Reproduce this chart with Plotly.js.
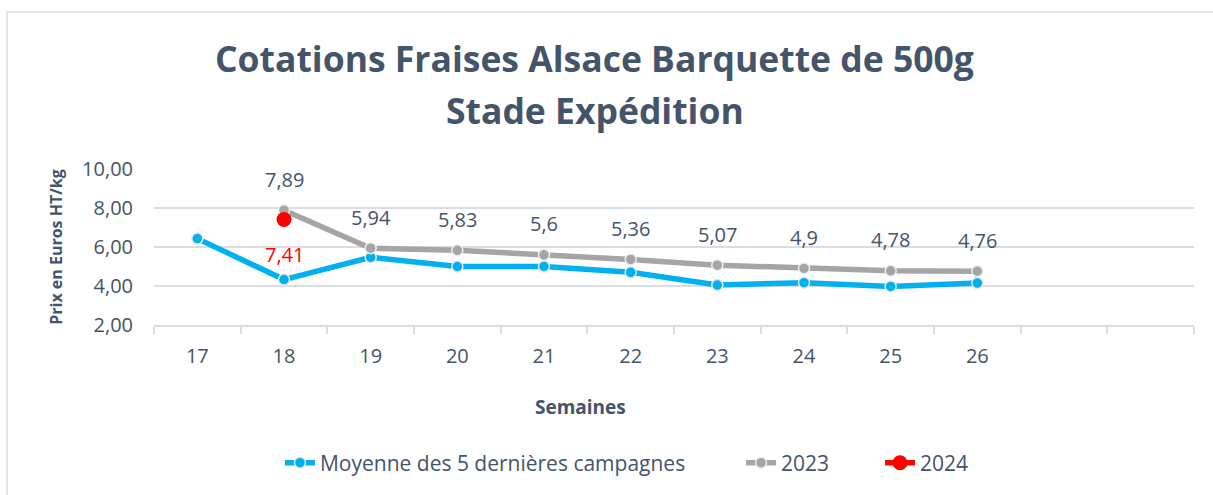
<!DOCTYPE html>
<html>
<head>
<meta charset="utf-8">
<script src="https://cdn.plot.ly/plotly-3.0.1.min.js"></script>
<style>
  html, body { margin: 0; padding: 0; background: #ffffff; }
  #chart { width: 1213px; height: 495px; }
  #frame { position: absolute; left: 6px; top: 11px; width: 1220px; height: 500px;
           border-left: 2px solid #e1e4e8; border-top: 2px solid #e1e4e8; pointer-events: none; }
</style>
</head>
<body>
<div id="chart"></div>
<div id="frame"></div>
<script>
// ---- data ----
const weeks = ['17', '18', '19', '20', '21', '22', '23', '24', '25', '26'];
const emptySlots = [' ', '  '];
const avgWeeks = ['17', '18', '19', '20', '21', '22', '23', '24', '25', '26'];
const avgValues = [6.43, 4.33, 5.47, 5.0, 5.0, 4.70, 4.05, 4.17, 3.98, 4.15];
const y2023Weeks = ['18', '19', '20', '21', '22', '23', '24', '25', '26'];
const y2023Values = [7.89, 5.94, 5.83, 5.6, 5.36, 5.07, 4.9, 4.78, 4.76];
const y2024Weeks = ['18'];
const y2024Values = [7.41];
const yTicks = [2, 4, 6, 8, 10];

const seriesNames = ['Moyenne des 5 dernières campagnes', '2023', '2024'];
const titleLines = ['Cotations Fraises Alsace Barquette de 500g', 'Stade Expédition'];
const txt = '#44546a';
const font = '"Open Sans", sans-serif';
const fmt = v => String(v).replace('.', ',');
const catIndex = w => weeks.indexOf(w);

const traces = [
  {
    x: avgWeeks, y: avgValues, name: seriesNames[0], type: 'scatter', mode: 'lines+markers',
    line: { color: '#00b0f0', width: 5.5 },
    marker: { color: '#00b0f0', size: 11, line: { color: '#e3e7eb', width: 1.5 } },
    hoverinfo: 'x+y', legend: 'legend'
  },
  {
    x: y2023Weeks, y: y2023Values, name: seriesNames[1], type: 'scatter', mode: 'lines+markers',
    line: { color: '#a5a5a5', width: 5.5 },
    marker: { color: '#a5a5a5', size: 11, line: { color: '#eeeeee', width: 1.5 } },
    hoverinfo: 'x+y', legend: 'legend2'
  },
  {
    x: y2024Weeks, y: y2024Values, name: seriesNames[2], type: 'scatter', mode: 'lines+markers',
    line: { color: '#ff0000', width: 5.5 },
    marker: { color: '#ff0000', size: 15 },
    hoverinfo: 'x+y', legend: 'legend3'
  }
];

const annotations = [];
y2023Weeks.forEach((w, i) => {
  annotations.push({
    x: catIndex(w), y: y2023Values[i], xref: 'x', yref: 'y', text: fmt(y2023Values[i]),
    xanchor: 'center', yanchor: 'middle',
    showarrow: false, yshift: 31, font: { family: font, size: 20, color: txt }
  });
});
y2024Weeks.forEach((w, i) => {
  annotations.push({
    x: catIndex(w), y: y2024Values[i], xref: 'x', yref: 'y', text: fmt(y2024Values[i]),
    xanchor: 'center', yanchor: 'middle',
    showarrow: false, yshift: -35, font: { family: font, size: 20, color: '#ff0000' }
  });
});
// chart title (two centred lines)
annotations.push({
  text: '<b>' + titleLines[0] + '</b>', xref: 'paper', yref: 'paper', x: 0.4236, y: 1.712,
  xanchor: 'center', yanchor: 'middle', showarrow: false,
  font: { family: font, size: 35.5, color: txt }
});
annotations.push({
  text: '<b>' + titleLines[1] + '</b>', xref: 'paper', yref: 'paper', x: 0.4236, y: 1.38,
  xanchor: 'center', yanchor: 'middle', showarrow: false,
  font: { family: font, size: 35.5, color: txt }
});
// x-axis title
annotations.push({
  text: '<b>Semaines</b>', xref: 'paper', yref: 'paper', x: 0.41, y: -0.526,
  xanchor: 'center', yanchor: 'middle',
  showarrow: false, font: { family: font, size: 19, color: txt }
});

const legendBase = {
  orientation: 'h', xref: 'paper', yref: 'paper', xanchor: 'left', y: -0.885, yanchor: 'middle',
  font: { family: font, size: 21, color: txt }, bgcolor: 'rgba(0,0,0,0)'
};

const layout = {
  width: 1213, height: 495,
  margin: { l: 154, r: 19, t: 169, b: 170 },
  paper_bgcolor: '#ffffff', plot_bgcolor: '#ffffff',
  separators: ', ',
  font: { family: font, color: txt },
  xaxis: {
    type: 'category',
    categoryorder: 'array', categoryarray: weeks.concat(emptySlots),
    range: [-0.5, 11.5],
    tickson: 'boundaries',
    ticks: 'outside', ticklen: 7, tickwidth: 2, tickcolor: '#d9dde3',
    showline: true, linecolor: '#d9dde3', linewidth: 2,
    showgrid: false, zeroline: false,
    ticklabelstandoff: 12,
    tickfont: { family: font, size: 20, color: txt },
    fixedrange: true
  },
  yaxis: {
    range: [2, 10], tickvals: yTicks, tickformat: '.2f',
    showgrid: true, gridcolor: '#d9dde3', gridwidth: 2,
    zeroline: false, showline: false, ticks: '',
    ticklabelstandoff: 20,
    tickfont: { family: font, size: 20, color: txt },
    title: { text: '<b>Prix en Euros HT/kg</b>', font: { family: font, size: 16, color: txt }, standoff: 15 },
    fixedrange: true
  },
  showlegend: true,
  legend: Object.assign({}, legendBase, { x: 0.1211 }),
  legend2: Object.assign({}, legendBase, { x: 0.5645 }),
  legend3: Object.assign({}, legendBase, { x: 0.6981 }),
  annotations: annotations
};

Plotly.newPlot('chart', traces, layout, { displayModeBar: false, staticPlot: true });
</script>
</body>
</html>
